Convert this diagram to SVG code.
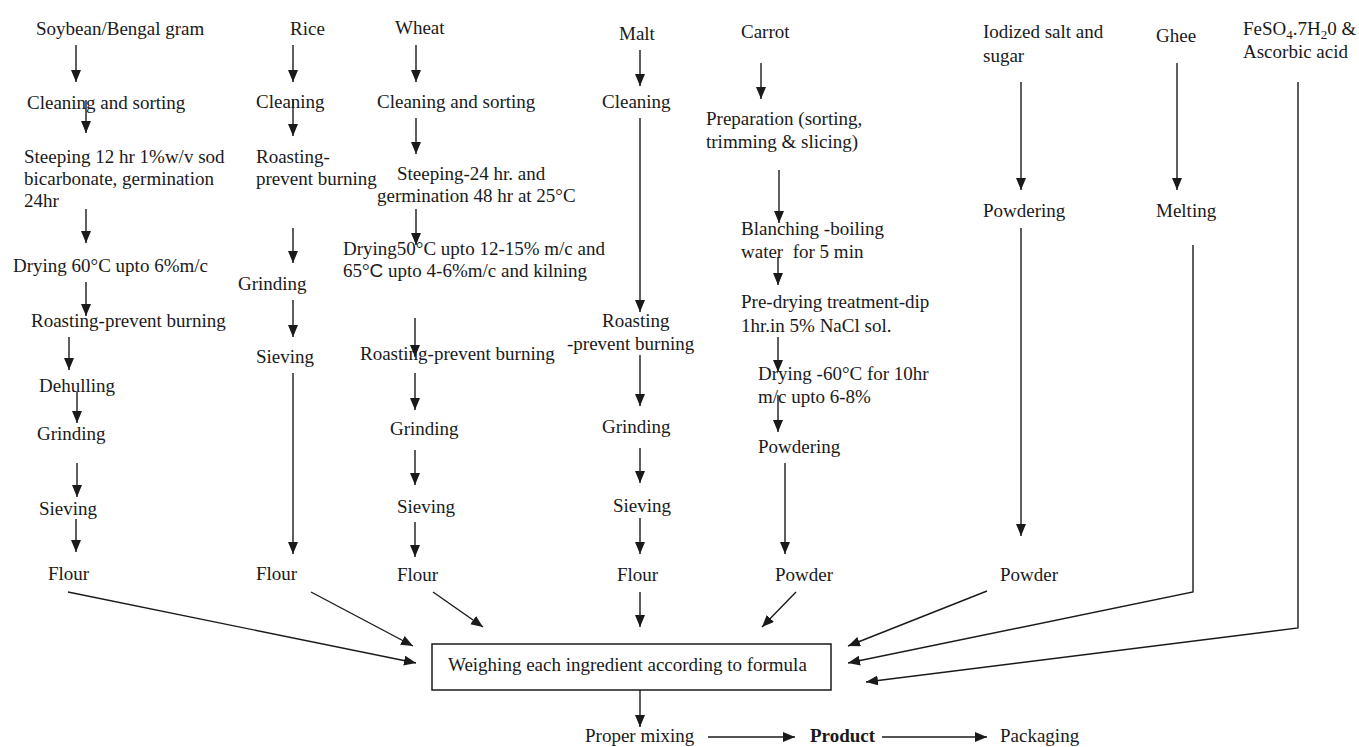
<svg xmlns="http://www.w3.org/2000/svg" width="1359" height="747" viewBox="0 0 1359 747">
<style>
text{font-family:"Liberation Serif","Times New Roman",serif;font-size:19px;fill:#1a1a1a}
.b{font-weight:bold}
.c{fill:none;stroke:#1a1a1a;stroke-width:1.4;marker-end:url(#ah)}
.box{fill:#fff;stroke:#1a1a1a;stroke-width:1.5}
</style>
<defs>
<marker id="ah" markerUnits="userSpaceOnUse" markerWidth="13" markerHeight="11" refX="12" refY="5" orient="auto">
<path d="M0,0 L12,5 L0,10 z" fill="#1a1a1a"/>
</marker>
</defs>
<rect width="1359" height="747" fill="#fff"/>

<g id="col-soybean">
<text x="36" y="35">Soybean/Bengal gram</text>
<text x="27" y="109">Cleaning and sorting</text>
<text x="24" y="163">Steeping 12 hr 1%w/v sod</text>
<text x="24" y="185">bicarbonate, germination</text>
<text x="24" y="207">24hr</text>
<text x="13" y="272">Drying 60°C upto 6%m/c</text>
<text x="31" y="327">Roasting-prevent burning</text>
<text x="39" y="392">Dehulling</text>
<text x="37" y="440">Grinding</text>
<text x="39" y="515">Sieving</text>
<text x="48" y="580">Flour</text>
</g>

<g id="col-rice">
<text x="290" y="35">Rice</text>
<text x="256" y="108">Cleaning</text>
<text x="256" y="163">Roasting-</text>
<text x="256" y="185">prevent burning</text>
<text x="238" y="290">Grinding</text>
<text x="256" y="363">Sieving</text>
<text x="256" y="580">Flour</text>
</g>

<g id="col-wheat">
<text x="395" y="34">Wheat</text>
<text x="377" y="108">Cleaning and sorting</text>
<text x="397" y="180">Steeping-24 hr. and</text>
<text x="377" y="202">germination 48 hr at 25°C</text>
<text x="343" y="255">Drying50°C upto 12-15% m/c and</text>
<text x="343" y="277">65°<tspan font-family="Liberation Sans, Arial, sans-serif">C</tspan> upto 4-6%m/c and kilning</text>
<text x="360" y="360">Roasting-prevent burning</text>
<text x="390" y="435">Grinding</text>
<text x="397" y="513">Sieving</text>
<text x="397" y="581">Flour</text>
</g>

<g id="col-malt">
<text x="619" y="40">Malt</text>
<text x="602" y="108">Cleaning</text>
<text x="602" y="327">Roasting</text>
<text x="567" y="350">-prevent burning</text>
<text x="602" y="433">Grinding</text>
<text x="613" y="512">Sieving</text>
<text x="617" y="581">Flour</text>
</g>

<g id="col-carrot">
<text x="741" y="38">Carrot</text>
<text x="706" y="125">Preparation (sorting,</text>
<text x="706" y="148">trimming &amp; slicing)</text>
<text x="741" y="235">Blanching -boiling</text>
<text x="741" y="258" xml:space="preserve">water  for 5 min</text>
<text x="741" y="308">Pre-drying treatment-dip</text>
<text x="741" y="332">1hr.in 5% NaCl sol.</text>
<text x="758" y="380">Drying -60°C for 10hr</text>
<text x="758" y="403">m/c upto 6-8%</text>
<text x="758" y="453">Powdering</text>
<text x="775" y="581">Powder</text>
</g>

<g id="col-salt">
<text x="983" y="38">Iodized salt and</text>
<text x="983" y="62">sugar</text>
<text x="983" y="217">Powdering</text>
<text x="1000" y="581">Powder</text>
</g>

<g id="col-ghee">
<text x="1156" y="42">Ghee</text>
<text x="1156" y="217">Melting</text>
</g>

<g id="col-iron">
<text x="1243" y="35">FeSO<tspan font-size="13" dy="4">4</tspan><tspan dy="-4">.7H</tspan><tspan font-size="13" dy="4">2</tspan><tspan dy="-4">0 &amp;</tspan></text>
<text x="1243" y="58">Ascorbic acid</text>
</g>

<g id="weighing">
<rect class="box" x="432" y="644" width="399" height="46"/>
<text x="448" y="671">Weighing each ingredient according to formula</text>
</g>

<g id="mixing"><text x="585" y="742">Proper mixing</text></g>
<g id="product"><text class="b" x="810" y="742">Product</text></g>
<g id="packaging"><text x="1000" y="742">Packaging</text></g>

<g id="connectors">
<!-- soybean -->
<line class="c" x1="76" y1="45" x2="76" y2="82"/>
<line class="c" x1="86" y1="100" x2="86" y2="133"/>
<line class="c" x1="86" y1="209" x2="86" y2="243"/>
<line class="c" x1="86" y1="282" x2="86" y2="316"/>
<line class="c" x1="69" y1="337" x2="69" y2="370"/>
<line class="c" x1="77" y1="392" x2="77" y2="423"/>
<line class="c" x1="77" y1="463" x2="77" y2="497"/>
<line class="c" x1="76" y1="519" x2="76" y2="552"/>
<line class="c" x1="68" y1="592" x2="416" y2="663"/>
<!-- rice -->
<line class="c" x1="293" y1="45" x2="293" y2="82"/>
<line class="c" x1="293" y1="100" x2="293" y2="136"/>
<line class="c" x1="293" y1="228" x2="293" y2="263"/>
<line class="c" x1="293" y1="300" x2="293" y2="337"/>
<line class="c" x1="293" y1="373" x2="293" y2="554"/>
<line class="c" x1="311" y1="592" x2="413" y2="646"/>
<!-- wheat -->
<line class="c" x1="416" y1="45" x2="416" y2="82"/>
<line class="c" x1="416" y1="118" x2="416" y2="154"/>
<line class="c" x1="416" y1="209" x2="416" y2="245"/>
<line class="c" x1="415" y1="318" x2="415" y2="357"/>
<line class="c" x1="415" y1="373" x2="415" y2="410"/>
<line class="c" x1="415" y1="450" x2="415" y2="485"/>
<line class="c" x1="415" y1="522" x2="415" y2="557"/>
<line class="c" x1="433" y1="592" x2="483" y2="627"/>
<!-- malt -->
<line class="c" x1="640" y1="50" x2="640" y2="86"/>
<line class="c" x1="640" y1="118" x2="640" y2="312"/>
<line class="c" x1="640" y1="355" x2="640" y2="406"/>
<line class="c" x1="640" y1="448" x2="640" y2="483"/>
<line class="c" x1="640" y1="518" x2="640" y2="554"/>
<line class="c" x1="640" y1="592" x2="640" y2="627"/>
<!-- carrot -->
<line class="c" x1="761" y1="63" x2="761" y2="99"/>
<line class="c" x1="779" y1="170" x2="779" y2="223"/>
<line class="c" x1="778" y1="257" x2="778" y2="285"/>
<line class="c" x1="778" y1="337" x2="778" y2="372"/>
<line class="c" x1="778" y1="395" x2="778" y2="432"/>
<line class="c" x1="785" y1="463" x2="785" y2="554"/>
<line class="c" x1="796" y1="592" x2="762" y2="627"/>
<!-- salt & sugar -->
<line class="c" x1="1021" y1="82" x2="1021" y2="190"/>
<line class="c" x1="1021" y1="228" x2="1021" y2="536"/>
<line class="c" x1="987" y1="591" x2="848" y2="646"/>
<!-- ghee -->
<line class="c" x1="1177" y1="63" x2="1177" y2="190"/>
<polyline class="c" points="1193,245 1193,592 848,663"/>
<!-- iron -->
<polyline class="c" points="1298,82 1298,628 866,682"/>
<!-- bottom -->
<line class="c" x1="640" y1="690" x2="640" y2="727"/>
<line class="c" x1="708" y1="737" x2="795" y2="737"/>
<line class="c" x1="882" y1="737" x2="987" y2="737"/>
</g>
</svg>
